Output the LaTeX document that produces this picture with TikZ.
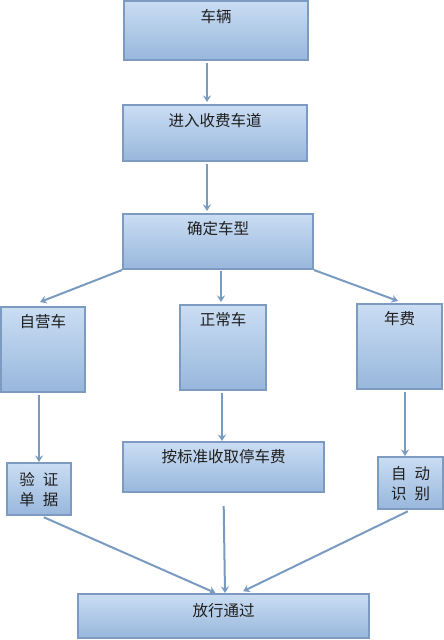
\documentclass[tikz,border=0pt]{standalone}
\usepackage{fontspec}
\newfontfamily\cjk{Noto Sans CJK SC}
\usetikzlibrary{arrows.meta,calc}
\definecolor{boxtop}{HTML}{CADDF3}
\definecolor{boxbot}{HTML}{98B7DC}
\definecolor{boxline}{HTML}{7D9BC0}
\definecolor{arrcol}{HTML}{7A9BC1}
\definecolor{txtcol}{HTML}{1E1E1E}
\tikzset{
  box/.style={draw=boxline, line width=2pt, top color=boxtop, bottom color=boxbot, inner sep=0pt},
  txt/.style={inner sep=0pt, text=txtcol, font=\cjk\fontsize{15.5}{20}\selectfont, align=center},
  arr/.style={draw=arrcol, line width=2pt, -{Stealth[length=6.5pt,width=8pt]}}
}
\begin{document}
\begin{tikzpicture}[x=1pt,y=-1pt]
\useasboundingbox (0,0) rectangle (444,640);
% boxes
\node[box, minimum width=184pt, minimum height=59pt] (b1) at (216,30) {};
\node[box, minimum width=184pt, minimum height=56pt] (b2) at (215,133) {};
\node[box, minimum width=190pt, minimum height=55pt] (b3) at (218,241.5) {};
\node[box, minimum width=84pt, minimum height=85pt] (b4) at (43,349.5) {};
\node[box, minimum width=86pt, minimum height=85pt] (b5) at (223,347.5) {};
\node[box, minimum width=85pt, minimum height=85pt] (b6) at (399.5,346.5) {};
\node[box, minimum width=64pt, minimum height=52pt] (b7) at (39,489) {};
\node[box, minimum width=201pt, minimum height=50pt] (b8) at (223.5,467) {};
\node[box, minimum width=65pt, minimum height=52pt] (b9) at (410.5,483) {};
\node[box, minimum width=291pt, minimum height=44pt] (b10) at (223.5,616) {};
% texts
\node[txt] (t1) at ([yshift=-17pt]b1.north) {车辆};
\node[txt] (t2) at ([yshift=-17pt]b2.north) {进入收费车道};
\node[txt] (t3) at ([yshift=-16pt]b3.north) {确定车型};
\node[txt] (t4) at ([yshift=-16pt]b4.north) {自营车};
\node[txt] (t5) at ([yshift=-16pt]b5.north) {正常车};
\node[txt] (t6) at ([yshift=-16pt]b6.north) {年费};
\node[txt] (t7) at ([yshift=-1pt]b7.center) {验\hspace{8pt}证\\单\hspace{8pt}据};
\node[txt] (t8) at ([yshift=-16pt]b8.north) {按标准收取停车费};
\node[txt] (t9) at ([yshift=-1pt]b9.center) {自\hspace{8pt}动\\识\hspace{8pt}别};
\node[txt] (t10) at ([yshift=-18pt]b10.north) {放行通过};
% connectors
\draw[arr, shorten <=2pt, shorten >=2pt] ([xshift=-9pt]b1.south) -- ([xshift=-8pt]b2.north);
\draw[arr, shorten <=2pt, shorten >=2pt] ([xshift=-8pt]b2.south) -- ([xshift=-11pt]b3.north);
\draw[arr] (b3.south west) -- ([yshift=4pt]b4.north -| 40,0);
\draw[arr, shorten <=1pt] ([xshift=3pt]b3.south) -- ([yshift=2pt]b5.north -| 221,0);
\draw[arr] (b3.south east) -- ([yshift=2pt]b6.north -| 398,0);
\draw[arr, shorten <=2pt] ([xshift=-4pt]b4.south) -- (b7.north);
\draw[arr, shorten <=2pt] ([xshift=-1pt]b5.south) -- ([xshift=-1.5pt]b8.north);
\draw[arr, shorten <=2pt] ([xshift=5.5pt]b6.south) -- ([xshift=-5.5pt]b9.north);
\draw[arr, shorten <=3pt] ([xshift=2pt]b7.south) -- ([xshift=-8pt]b10.north);
\draw[arr, shorten <=13pt] (b8.south) -- ([xshift=1.5pt]b10.north);
\draw[arr, shorten <=3pt, shorten >=4pt] (b9.south) -- ([xshift=16pt]b10.north);
\end{tikzpicture}
\end{document}
